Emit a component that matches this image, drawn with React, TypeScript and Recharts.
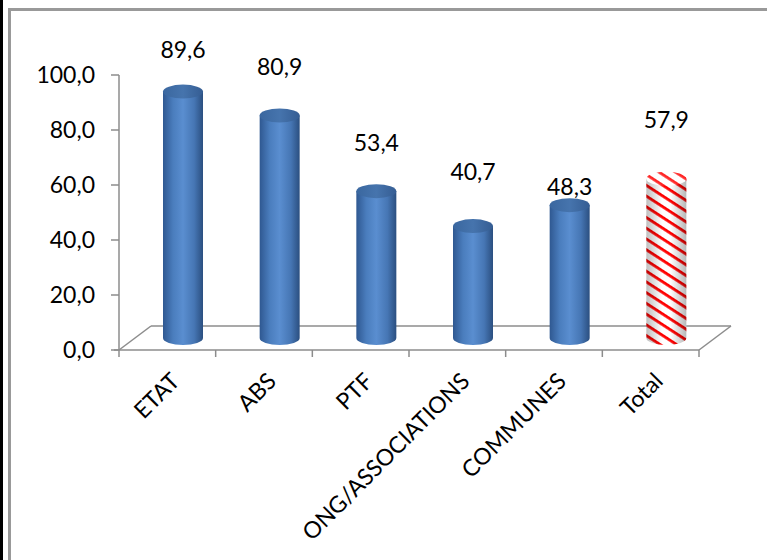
import { BarChart, Bar, XAxis, YAxis, ReferenceArea, LabelList } from 'recharts'

const categories = ['ETAT', 'ABS', 'PTF', 'ONG/ASSOCIATIONS', 'COMMUNES', 'Total']
const values = [89.6, 80.9, 53.4, 40.7, 48.3, 57.9]
const yTicks = [0, 20, 40, 60, 80, 100]

// hand-placed label offsets above each cylinder top, as in the source sheet
const labelLift = [42, 49, 48, 54, 18, 59]

const data = categories.map((name, i) => ({ name, value: values[i] }))

const DX = 32
const DY = 24
const AXIS = '#8c8c8c'
const FONT = 'Lato, "Open Sans", sans-serif'

const fmt = (v: number) => v.toFixed(1).replace('.', ',')

function Floor(props: any) {
  const { x, y, width, height } = props
  const b = y + height
  const step = width / categories.length
  const ticks = Array.from({ length: categories.length + 1 }, (_, i) => x + i * step)
  return (
    <g stroke={AXIS} strokeWidth={1.5} fill="none">
      <line x1={x} y1={b} x2={x + DX} y2={b - DY} />
      <line x1={x + DX} y1={b - DY} x2={x + width + DX} y2={b - DY} />
      <line x1={x + width} y1={b} x2={x + width + DX} y2={b - DY} />
      <line x1={x - 5} y1={b} x2={x + width} y2={b} />
      {ticks.map((tx, i) => (
        <line key={i} x1={tx} y1={b} x2={tx} y2={b + 7} />
      ))}
    </g>
  )
}

function Cylinder(props: any) {
  const { x, y, width, height, payload } = props
  if (height == null || width == null) return null
  const r = width / 2
  const ry = 7
  const cx = x + r + DX / 2
  const top = y - DY / 2
  const base = y + height - DY / 2
  const striped = payload?.name === 'Total'
  const body = `M${cx - r},${top} L${cx - r},${base} A${r},${ry} 0 0 0 ${cx + r},${base} L${cx + r},${top} Z`
  return (
    <g>
      <path d={body} fill={striped ? 'url(#stripes)' : 'url(#blueBody)'} />
      {striped && <path d={body} fill="url(#shade)" />}
      <ellipse cx={cx} cy={top} rx={r} ry={ry} fill={striped ? 'url(#stripes)' : 'url(#blueTop)'} />
      {striped && <ellipse cx={cx} cy={top} rx={r} ry={ry} fill="rgba(255,255,255,0.15)" />}
    </g>
  )
}

function ValueLabel(props: any) {
  const { x, y, width, value, index } = props
  const cx = x + width / 2 + DX / 2
  const ty = y - DY / 2 - labelLift[index]
  return (
    <text x={cx} y={ty} dy="0.35em" textAnchor="middle" fontFamily={FONT} fontSize={23} fill="#000">
      {fmt(value)}
    </text>
  )
}

function CatTick(props: any) {
  const { x, y, payload } = props
  const ax = x + 8
  const ay = y + 27
  return (
    <text
      x={ax}
      y={ay}
      dy="0.35em"
      textAnchor="end"
      transform={`rotate(-45, ${ax}, ${ay})`}
      fontFamily={FONT}
      fontSize={23}
      fill="#000"
    >
      {payload.value}
    </text>
  )
}

export default function App() {
  return (
    <div style={{ position: 'fixed', left: 0, top: 0, width: 767, height: 560, background: '#fff', overflow: 'hidden' }}>
      <div style={{ position: 'absolute', left: 0, top: 0, width: 3, height: 560, background: '#000' }} />
      <div
        style={{
          position: 'absolute',
          left: 8,
          top: 8,
          width: 780,
          height: 580,
          borderLeft: '3px solid #999',
          borderTop: '3px solid #999',
        }}
      />
      <div style={{ position: 'absolute', left: 0, top: 0 }}>
        <BarChart width={767} height={560} data={data} margin={{ top: 75, right: 68, left: 0, bottom: 60 }} barSize={40}>
          <defs>
            <linearGradient id="blueBody" x1="0" y1="0" x2="1" y2="0">
              <stop offset="0%" stopColor="#2f5891" />
              <stop offset="25%" stopColor="#4a7dbd" />
              <stop offset="50%" stopColor="#5a8ed0" />
              <stop offset="78%" stopColor="#4676b4" />
              <stop offset="100%" stopColor="#2b4f80" />
            </linearGradient>
            <linearGradient id="blueTop" x1="0" y1="0" x2="1" y2="0">
              <stop offset="0%" stopColor="#3a679f" />
              <stop offset="50%" stopColor="#4674ad" />
              <stop offset="100%" stopColor="#355d93" />
            </linearGradient>
            <pattern id="stripes" width="9" height="9" patternUnits="userSpaceOnUse" patternTransform="rotate(33)">
              <rect width="9" height="9" fill="#fff" />
              <rect width="9" height="2.8" fill="#ff0000" />
            </pattern>
            <linearGradient id="shade" x1="0" y1="0" x2="1" y2="0">
              <stop offset="0%" stopColor="#000" stopOpacity={0.25} />
              <stop offset="40%" stopColor="#000" stopOpacity={0} />
              <stop offset="60%" stopColor="#000" stopOpacity={0} />
              <stop offset="100%" stopColor="#000" stopOpacity={0.28} />
            </linearGradient>
          </defs>
          <ReferenceArea y1={0} y2={100} shape={<Floor />} ifOverflow="visible" />
          <XAxis
            dataKey="name"
            interval={0}
            axisLine={false}
            tickLine={false}
            tickSize={0}
            tickMargin={0}
            height={150}
            tick={<CatTick />}
          />
          <YAxis
            width={119}
            domain={[0, 100]}
            ticks={yTicks}
            tickFormatter={fmt}
            axisLine={{ stroke: AXIS, strokeWidth: 1.5 }}
            tickLine={{ stroke: AXIS, strokeWidth: 1.5 }}
            tickSize={8}
            tickMargin={16}
            tick={{ fill: '#000', fontSize: 23, fontFamily: FONT }}
          />
          <Bar dataKey="value" shape={<Cylinder />} isAnimationActive={false}>
            <LabelList dataKey="value" content={<ValueLabel />} />
          </Bar>
        </BarChart>
      </div>
    </div>
  )
}
